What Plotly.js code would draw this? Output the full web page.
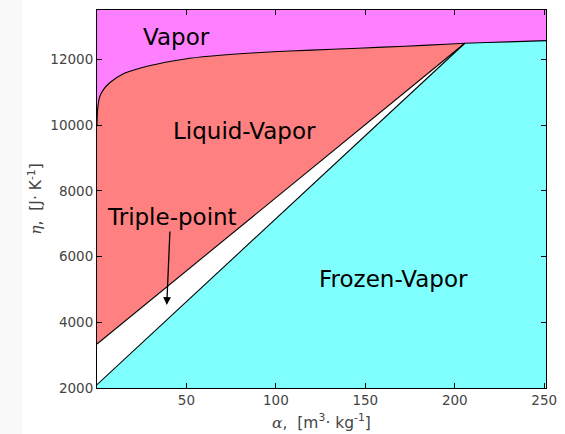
<!DOCTYPE html>
<html>
<head>
<meta charset="utf-8">
<script src="https://cdn.plot.ly/plotly-3.0.1.min.js"></script>
<style>html,body{margin:0;padding:0;background:#fff;}</style>
</head>
<body>
<div id="chart" style="width:565px;height:434px;"></div>
<script>
// Axis extents
var alphaRange = [0, 251];
var etaRange = [2000, 13500];

// Triple point
var tripleAlpha = 205.6;
var tripleEta = 12488;

// Vapor (saturation) curve
var vapAlpha = [0, 0.2, 0.6, 1.5, 3.4, 7.1, 14.5, 23.9, 33.2, 51.8, 70.5, 89.1, 107.8, 131.8, 160, 185, 205.6, 230, 251];
var vapEta   = [10000, 10360, 10600, 10860, 11064, 11287, 11552, 11726, 11848, 12030, 12131, 12201, 12253, 12305, 12370, 12430, 12488, 12530, 12567];

// Liquid-vapor lower boundary (upper straight line)
var lvAlpha = [0, 205.6];
var lvEta   = [3340, 12488];

// Frozen-vapor upper boundary (lower straight line)
var fvAlpha = [0, 205.6];
var fvEta   = [2100, 12488];

// Labels
var labelText  = ["Vapor", "Liquid-Vapor", "Triple-point", "Frozen-Vapor"];
var labelAlpha = [44.6, 82.7, 41.8, 165.6];
var labelEta   = [12688, 9819, 7212, 5326];
var arrowTail = [40.8, 6808];
var arrowTip  = [39.0, 4526];

var tIdx = vapAlpha.indexOf(tripleAlpha);

// Vapor region polygon
var vX = vapAlpha.concat([alphaRange[1], alphaRange[0]]);
var vY = vapEta.concat([etaRange[1], etaRange[1]]);

// Liquid-vapor region polygon
var lX = vapAlpha.slice(0, tIdx + 1).concat(lvAlpha.slice().reverse());
var lY = vapEta.slice(0, tIdx + 1).concat(lvEta.slice().reverse());

// Frozen-vapor region polygon
var fX = fvAlpha.concat(vapAlpha.slice(tIdx + 1)).concat([alphaRange[1], alphaRange[0]]);
var fY = fvEta.concat(vapEta.slice(tIdx + 1)).concat([etaRange[0], etaRange[0]]);

function region(x, y, color, shape) {
  return {x: x, y: y, type: 'scatter', mode: 'lines', fill: 'toself', fillcolor: color,
          line: {width: 0, color: color, shape: shape || 'linear', smoothing: 0.6},
          hoverinfo: 'skip', showlegend: false};
}
function bline(x, y, shape) {
  return {x: x, y: y, type: 'scatter', mode: 'lines',
          line: {color: '#000', width: 1.1, shape: shape || 'linear', smoothing: 0.6},
          hoverinfo: 'skip', showlegend: false};
}

var data = [
  region(vX, vY, '#ff80ff', 'spline'),
  region(lX, lY, '#ff8080', 'spline'),
  region(fX, fY, '#80ffff'),
  bline(vapAlpha, vapEta, 'spline'),
  bline(lvAlpha, lvEta),
  bline(fvAlpha, fvEta)
];

var annotations = labelText.map(function (t, i) {
  return {x: labelAlpha[i], y: labelEta[i], xref: 'x', yref: 'y', text: t, showarrow: false,
          font: {family: 'DejaVu Sans', size: 23, color: '#000'}};
});
annotations.push({
  x: arrowTip[0], y: arrowTip[1], ax: arrowTail[0], ay: arrowTail[1],
  xref: 'x', yref: 'y', axref: 'x', ayref: 'y', text: '', showarrow: true,
  arrowhead: 2, arrowsize: 1.2, arrowwidth: 1.3, arrowcolor: '#000', standoff: 0, startstandoff: 0
});

var axisFont = {family: 'DejaVu Sans', size: 13.5, color: '#444'};
var titleFont = {family: 'DejaVu Sans', size: 15.5, color: '#444'};
var layout = {
  width: 565, height: 434,
  margin: {l: 97, r: 19, t: 10, b: 46, pad: 0},
  paper_bgcolor: '#fff', plot_bgcolor: '#fff',
  font: {family: 'DejaVu Sans'},
  xaxis: {
    range: alphaRange, tickvals: [50, 100, 150, 200, 250], ticks: 'inside', ticklen: 5,
    tickcolor: '#000', showline: true, linecolor: '#000', linewidth: 1, mirror: 'ticks',
    showgrid: false, zeroline: false, tickfont: axisFont,
    title: {text: '<span style="font-family:DejaVu Serif"><i>α</i></span>,  [m<sup>3</sup>· kg<sup>-1</sup>]',
            font: titleFont, standoff: 9}
  },
  yaxis: {
    range: etaRange, tickvals: [2000, 4000, 6000, 8000, 10000, 12000], ticks: 'inside', ticklen: 5,
    tickcolor: '#000', showline: true, linecolor: '#000', linewidth: 1, mirror: 'ticks',
    showgrid: false, zeroline: false, tickfont: axisFont, tickformat: 'd',
    title: {text: '<span style="font-family:DejaVu Serif"><i>η</i></span>,  [J· K<sup>-1</sup>]',
            font: titleFont, standoff: 4}
  },
  annotations: annotations,
  shapes: [{type: 'rect', xref: 'paper', yref: 'paper', x0: -97/449, x1: (22-97)/449, y0: -0.2, y1: 1.1,
            fillcolor: '#f9f9f9', line: {width: 0}, layer: 'below'}]
};

Plotly.newPlot('chart', data, layout, {displayModeBar: false, staticPlot: true});
</script>
</body>
</html>
